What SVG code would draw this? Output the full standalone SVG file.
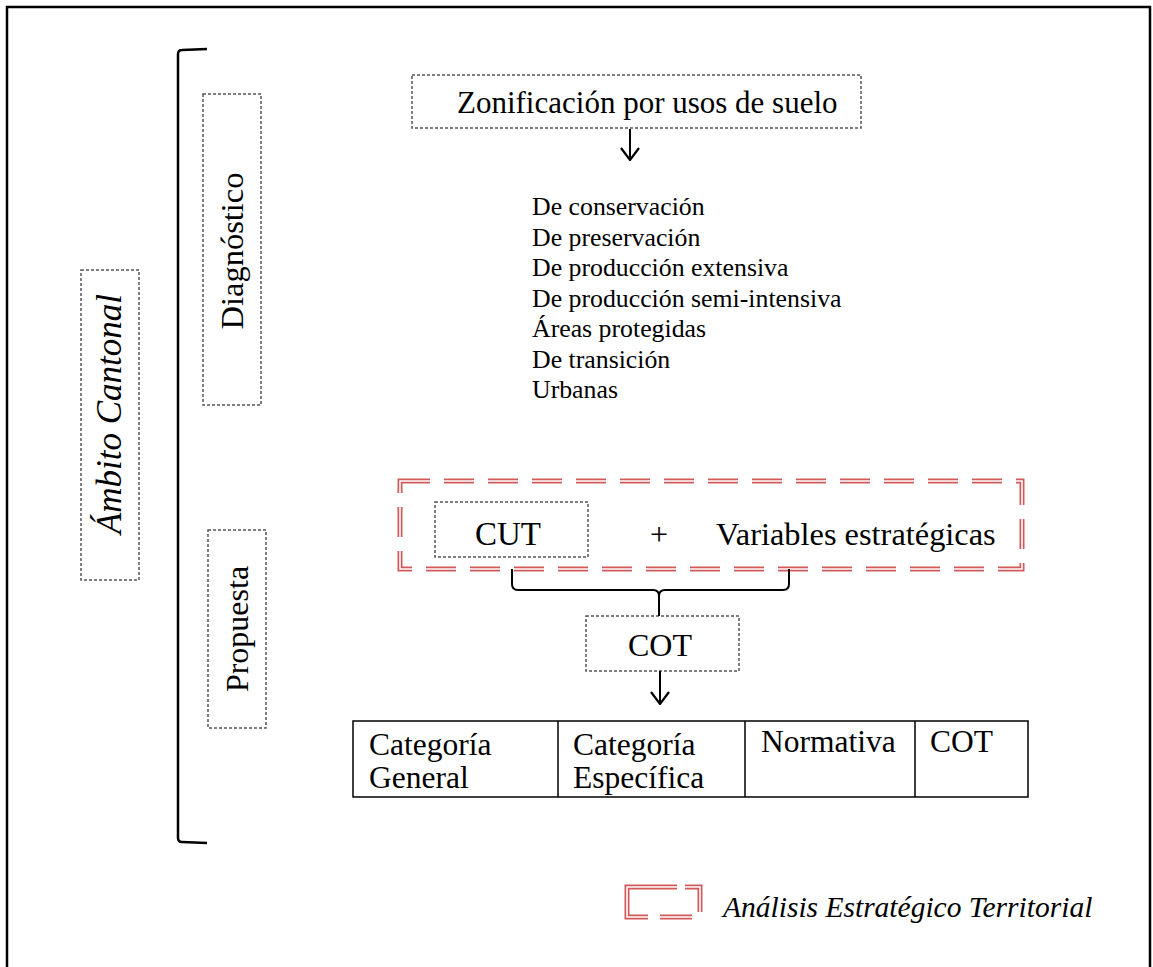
<svg xmlns="http://www.w3.org/2000/svg" width="1153" height="967" viewBox="0 0 1153 967">
<style>
.t{font-family:"Liberation Serif","Times New Roman",serif;fill:#000}
.big{font-size:31.5px}
.list{font-size:25.8px}
.dash{fill:none;stroke:#555;stroke-width:1.5;stroke-dasharray:3 2}
.solid{fill:none;stroke:#000;stroke-width:2}
.redo{fill:none;stroke:#d25a5a;stroke-width:5;stroke-dasharray:30 14}
.redi{fill:none;stroke:#fff;stroke-width:1.6;stroke-dasharray:30 14}
</style>
<defs>
<marker id="ah" viewBox="0 0 14 20" refX="13" refY="10" markerWidth="14" markerHeight="20" markerUnits="userSpaceOnUse" orient="auto">
<path d="M1,1 L13,10 L1,19" fill="none" stroke="#000" stroke-width="2.2"/>
</marker>
</defs>
<rect width="1153" height="967" fill="#fff"/>
<path d="M7,967 L7,7 L1150,7 L1150,967" fill="none" stroke="#000" stroke-width="2.5"/>

<g id="bracket">
<path d="M207,49 L182,50 Q178,50 178,54 L178,838 Q178,842 182,842 L207,843" fill="none" stroke="#000" stroke-width="2.5"/>
</g>

<g id="ambito">
<rect x="81" y="270" width="58" height="310" class="dash"/>
<text class="t" font-size="35" font-style="italic" text-anchor="middle" transform="translate(121,414) rotate(-90)">Ámbito Cantonal</text>
</g>

<g id="diagnostico">
<rect x="203" y="94" width="58" height="311" class="dash"/>
<text class="t" font-size="32.5" text-anchor="middle" transform="translate(243,251) rotate(-90)">Diagnóstico</text>
</g>

<g id="propuesta">
<rect x="208" y="530" width="58" height="198" class="dash"/>
<text class="t" font-size="32" text-anchor="middle" transform="translate(248,629) rotate(-90)">Propuesta</text>
</g>

<g id="zonificacion">
<rect x="412" y="75" width="449" height="53" class="dash"/>
<text class="t" font-size="31" x="457" y="113">Zonificación por usos de suelo</text>
</g>

<g id="usos">
<text class="t list" x="532" y="215">De conservación</text>
<text class="t list" x="532" y="245.5">De preservación</text>
<text class="t list" x="532" y="276">De producción extensiva</text>
<text class="t list" x="532" y="306.5">De producción semi-intensiva</text>
<text class="t list" x="532" y="337">Áreas protegidas</text>
<text class="t list" x="532" y="367.5">De transición</text>
<text class="t list" x="532" y="398">Urbanas</text>
</g>

<g id="analisis">
<rect x="400" y="481" width="622" height="88" class="redo"/>
<rect x="400" y="481" width="622" height="88" class="redi"/>
</g>

<g id="cut">
<rect x="435" y="502" width="153" height="55" class="dash"/>
<text class="t" font-size="33" x="508" y="545" text-anchor="middle">CUT</text>
</g>

<g id="plus">
<text class="t" font-size="32" x="659" y="545" text-anchor="middle">+</text>
</g>

<g id="variables">
<text class="t" font-size="32.4" x="716" y="545">Variables estratégicas</text>
</g>

<g id="cot">
<rect x="586" y="616" width="153" height="55" class="dash"/>
<text class="t" font-size="32" x="660" y="656" text-anchor="middle">COT</text>
</g>

<g id="tabla">
<rect x="353" y="721" width="675" height="76" fill="none" stroke="#000" stroke-width="1.5"/>
<path d="M558,721 V797 M745,721 V797 M915,721 V797" stroke="#000" stroke-width="1.5"/>
<text class="t big" x="369" y="755">Categoría</text>
<text class="t big" x="369" y="788">General</text>
<text class="t big" x="573" y="755">Categoría</text>
<text class="t big" x="573" y="788">Específica</text>
<text class="t big" x="761" y="752">Normativa</text>
<text class="t big" x="930" y="752">COT</text>
</g>

<g id="leyenda">
<path d="M648,887 H627 V917 H648 M660,917 H692 M645,887 H677 M685,887 H700 V912" fill="none" stroke="#d25a5a" stroke-width="5"/>
<path d="M648,887 H627 V917 H648 M660,917 H692 M645,887 H677 M685,887 H700 V912" fill="none" stroke="#fff" stroke-width="1.6"/>
<text class="t" font-size="29.5" font-style="italic" x="723" y="917">Análisis Estratégico Territorial</text>
</g>

<g id="connectors">
<line x1="630" y1="129" x2="630" y2="160" class="solid" marker-end="url(#ah)"/>
<path d="M512,569 V584 Q512,590 518,590 H653 Q659,590 659,596 V616 M659,596 Q659,590 665,590 H783 Q789,590 789,584 V569" class="solid"/>
<line x1="660" y1="671" x2="660" y2="704" class="solid" marker-end="url(#ah)"/>
</g>
</svg>
